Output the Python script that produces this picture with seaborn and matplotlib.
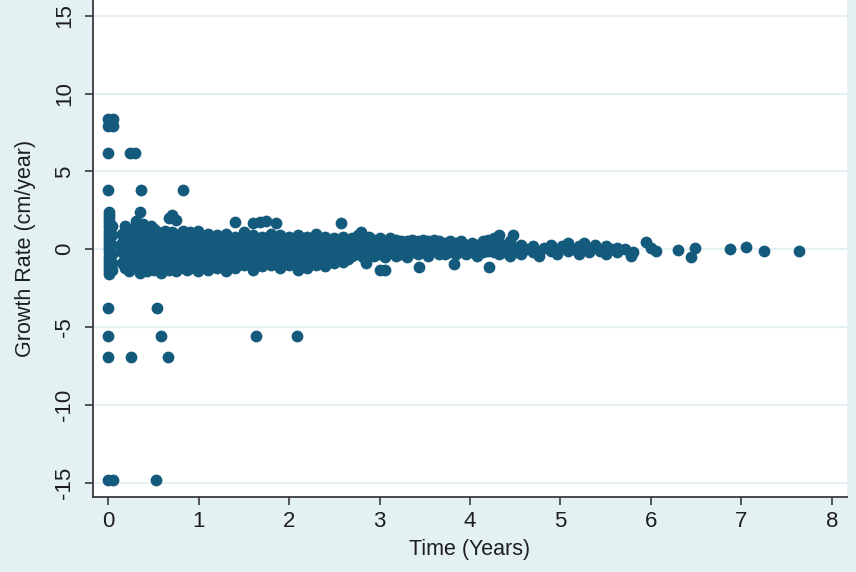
import matplotlib
matplotlib.use('Agg')
import matplotlib.pyplot as plt
import seaborn as sns
import pandas as pd

#>> Data
# column of points at time 0
zero_x = 0.01
zero_y = [2.4, 2.2, 2.0, 1.8, 1.6, 1.4, 1.2, 1.0, 0.8, 0.6, 0.4, 0.2, 0.0,
          -0.2, -0.4, -0.6, -0.8, -1.0, -1.2, -1.4, -1.6]
zero2_x = 0.04
zero2_y = [1.5, 0.9, 0.3, -0.3, -0.9, -1.3]

# dense band, first year
band_a_x = [0.15, 0.19, 0.23, 0.27, 0.31, 0.35, 0.39, 0.43, 0.47, 0.51, 0.55,
            0.59, 0.63, 0.67, 0.71, 0.75, 0.79, 0.83, 0.87, 0.91, 0.95, 0.99]
band_a_y = [[0.4, -0.2, -0.9, 1.0, 0.1], [0.8, -0.5, -1.2, 0.2, 1.5],
            [1.1, 0.3, -0.3, -0.9, -1.4], [0.6, -0.1, -0.8, 1.3, 0.2],
            [1.8, 0.9, 0.0, -0.6, -1.2], [2.4, 1.4, 0.5, -0.4, -1.5],
            [1.6, 0.7, -0.2, -1.0, 0.3], [1.2, 0.1, -0.7, -1.4, 0.6],
            [0.9, -0.3, -1.1, 0.4, 1.5], [1.3, 0.2, -0.6, -1.3, 0.7],
            [0.8, -0.1, -0.9, 1.1, 0.3], [1.0, 0.4, -0.4, -1.5, 0.0],
            [0.6, -0.2, -1.0, 1.2, 0.2], [2.0, 0.9, 0.1, -0.7, -1.3],
            [1.1, 0.4, -0.3, -1.1, 2.2], [1.9, 0.7, -0.1, -0.8, -1.4],
            [1.0, 0.2, -0.5, -1.2, 0.6], [0.8, -0.2, -0.9, 0.3, 1.2],
            [1.0, 0.1, -0.6, -1.3, 0.5], [0.7, -0.3, -1.0, 0.2, 1.1],
            [0.9, 0.0, -0.7, -1.2, 0.4], [1.2, 0.5, -0.2, -0.9, -1.4]]

# band, years 1 to 2.6
band_b_x = [1.05, 1.1, 1.15, 1.2, 1.25, 1.3, 1.35, 1.4, 1.45, 1.5, 1.55, 1.6,
            1.65, 1.7, 1.75, 1.8, 1.85, 1.9, 1.95, 2.0, 2.05, 2.1, 2.15, 2.2,
            2.25, 2.3, 2.35, 2.4, 2.45, 2.5, 2.55, 2.6]
band_b_y = [[0.8, 0.0, -0.7, -1.1], [1.0, 0.3, -0.4, -1.3], [0.6, -0.2, -0.9, 0.2],
            [0.9, 0.1, -0.6, -1.2], [0.7, -0.1, -0.8, 0.4], [1.0, 0.3, -0.5, -1.4],
            [0.5, -0.3, -1.0, 0.1], [0.8, 0.0, -0.7, -1.2], [0.6, -0.2, -0.9, 0.3],
            [1.1, 0.2, -0.5, -1.0], [0.7, -0.1, -0.8, 0.4], [0.9, 0.1, -0.6, -1.3],
            [0.5, -0.3, -1.0, 0.2], [0.8, 0.0, -0.6, -1.1], [0.6, -0.2, -0.9, 0.3],
            [1.0, 0.2, -0.4, -1.0], [0.7, -0.1, -0.7, 0.4], [0.9, 0.1, -0.5, -1.2],
            [0.5, -0.3, -0.9, 0.2], [0.8, 0.0, -0.6, -1.0], [0.6, -0.2, -0.8, 0.3],
            [0.9, 0.1, -0.4, -1.3], [0.7, -0.1, -0.7, 0.4], [0.8, 0.2, -0.5, -1.2],
            [0.5, -0.2, -0.8, 0.1], [1.0, 0.3, -0.3, -1.0], [0.6, -0.1, -0.6, 0.2],
            [0.8, 0.0, -0.5, -1.1], [0.5, -0.2, -0.7, 0.3], [0.7, 0.1, -0.4, -0.9],
            [0.4, -0.1, -0.6, 0.2], [0.8, 0.0, -0.5, -0.8]]

# band, years 2.6 to 4.5
band_c_x = [2.65, 2.7, 2.76, 2.82, 2.88, 2.94, 3.0, 3.06, 3.12, 3.18, 3.24,
            3.3, 3.36, 3.42, 3.48, 3.54, 3.6, 3.66, 3.72, 3.78, 3.84, 3.9,
            3.96, 4.02, 4.08, 4.14, 4.2, 4.26, 4.32, 4.38, 4.44]
band_c_y = [[0.5, -0.1, -0.6], [0.7, 0.1, -0.4], [0.3, -0.3, 0.9], [0.6, 0.0, -0.5],
            [0.4, -0.2, 0.8], [0.6, 0.1, -0.4], [0.3, -0.3, 0.7], [0.5, 0.0, -0.5],
            [0.4, -0.2, 0.7], [0.6, 0.1, -0.4], [0.3, -0.3, 0.5], [0.5, 0.0, -0.5],
            [0.4, -0.2, 0.6], [0.5, 0.1, -0.3], [0.3, -0.2, 0.6], [0.5, 0.0, -0.4],
            [0.4, -0.1, 0.6], [0.2, -0.3, 0.5], [0.4, 0.0, -0.3], [0.3, -0.2, 0.5],
            [0.4, 0.1, -0.3], [0.2, -0.1, 0.5], [0.3, 0.0, -0.3], [0.4, -0.2, 0.1],
            [0.3, 0.0, -0.4], [0.5, 0.1, -0.2], [0.3, -0.1, 0.6], [0.7, 0.2, -0.2],
            [0.4, -0.3, 0.1], [0.3, 0.0, -0.2], [0.5, 0.1, -0.4]]

# sparse band, years 4.5 to 5.7
band_d_x = [4.5, 4.56, 4.62, 4.7, 4.76, 4.82, 4.9, 4.96, 5.02, 5.08, 5.14,
            5.2, 5.26, 5.32, 5.38, 5.44, 5.5, 5.56, 5.62]
band_d_y = [[0.1, -0.2], [0.3, -0.3], [0.0], [0.2, -0.2], [-0.4], [0.1],
            [0.3, -0.1], [-0.3], [0.2], [0.4, -0.1], [0.0], [-0.3, 0.2], [0.4],
            [0.0, -0.2], [0.3], [-0.1], [0.2, -0.3], [0.0], [0.1, -0.2]]

# tail and scattered points
tail_x = [5.71, 5.80, 5.78, 5.95, 6.0, 6.05, 6.30, 6.44, 6.49, 6.87, 7.05, 7.25, 7.64,
          2.8, 2.85, 3.0, 3.06, 3.44, 3.82, 4.21, 4.32, 4.48]
tail_y = [0.0, -0.2, -0.45, 0.45, 0.1, -0.1, -0.05, -0.5, 0.1, 0.0, 0.15, -0.1, -0.1,
          1.1, -0.85, -1.35, -1.3, -1.15, -0.95, -1.15, 0.9, 0.9]

outlier_x = [0.0, 0.05, 0.0, 0.05, 0.02, 0.0, 0.24, 0.30, 0.0, 0.36, 0.83,
             1.40, 1.60, 1.68, 1.75, 1.86, 2.58,
             0.0, 0.54, 0.0, 0.59, 1.63, 2.09, 0.0, 0.25, 0.66, 0.0, 0.05, 0.53]
outlier_y = [8.4, 8.4, 7.9, 7.9, 8.1, 6.2, 6.2, 6.2, 3.8, 3.8, 3.8,
             1.75, 1.7, 1.75, 1.8, 1.7, 1.7,
             -3.8, -3.8, -5.6, -5.6, -5.6, -5.6, -6.9, -6.9, -6.9, -14.8, -14.8, -14.8]

#>> Build table
xs, ys = [], []
xs += [zero_x] * len(zero_y); ys += zero_y
xs += [zero2_x] * len(zero2_y); ys += zero2_y
for bx, by in [(band_a_x, band_a_y), (band_b_x, band_b_y),
               (band_c_x, band_c_y), (band_d_x, band_d_y)]:
    for x, group in zip(bx, by):
        xs += [x] * len(group); ys += group
xs += tail_x; ys += tail_y
xs += outlier_x; ys += outlier_y
df = pd.DataFrame({'time': xs, 'rate': ys})

#>> Style
sns.set_style('white')
plt.rcParams['font.family'] = ['Liberation Sans', 'DejaVu Sans']
plt.rcParams['axes.unicode_minus'] = False

bg = '#e4f1f3'
dot = '#145a7c'
ink = '#1e1e1e'

fig = plt.figure(figsize=(8.56, 5.72), dpi=100, facecolor=bg)
ax = fig.add_axes([93 / 856, 1 - 497 / 572, (847 - 93) / 856, 497 / 572])
ax.set_facecolor('white')

sns.scatterplot(data=df, x='time', y='rate', color=dot, s=72, linewidth=0,
                alpha=1, ax=ax, zorder=3)

ax.set_xlim(-0.166, 8.166)
ax.set_ylim(-15.92, 16.02)
ax.set_xticks(range(0, 9))
ax.set_yticks([-15, -10, -5, 0, 5, 10, 15])
ax.yaxis.grid(True, color='#e4f0f3', linewidth=1.6)
ax.xaxis.grid(False)
ax.set_axisbelow(True)

for side in ['top', 'right']:
    ax.spines[side].set_visible(False)
for side in ['left', 'bottom']:
    ax.spines[side].set_color('#3a3a3a')
    ax.spines[side].set_linewidth(1.3)

ax.tick_params(axis='both', direction='out', length=6, width=1.2,
               color='#3a3a3a', labelsize=16, labelcolor=ink, left=True, bottom=True)
ax.tick_params(axis='y', pad=7)
ax.tick_params(axis='x', pad=4)
for lbl in ax.get_yticklabels():
    lbl.set_rotation(90)
    lbl.set_va('center')

ax.set_xlabel('Time (Years)', fontsize=15.5, color=ink, labelpad=5)
ax.set_ylabel('Growth Rate (cm/year)', fontsize=15.5, color=ink, labelpad=13)

fig.savefig('out.png', dpi=100, facecolor=bg)
